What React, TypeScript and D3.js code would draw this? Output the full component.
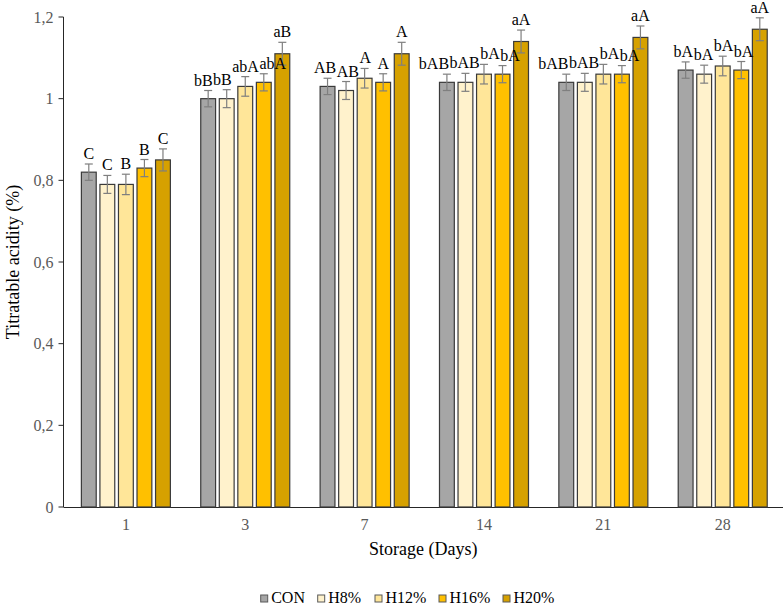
import * as d3 from 'd3';

const days = ['1', '3', '7', '14', '21', '28'];
const series = ['CON', 'H8%', 'H12%', 'H16%', 'H20%'];
const colors = ['#a6a6a6', '#fff2cc', '#ffe699', '#ffc000', '#d6a100'];

// mean titratable acidity per day, one array per treatment
const CON = [0.82, 1.0, 1.03, 1.04, 1.04, 1.07];
const H8 = [0.79, 1.0, 1.02, 1.04, 1.04, 1.06];
const H12 = [0.79, 1.03, 1.05, 1.06, 1.06, 1.08];
const H16 = [0.83, 1.04, 1.04, 1.06, 1.06, 1.07];
const H20 = [0.85, 1.11, 1.11, 1.14, 1.15, 1.17];

// standard deviations
const errCON = [0.02, 0.02, 0.02, 0.02, 0.02, 0.02];
const errH8 = [0.022, 0.022, 0.022, 0.022, 0.022, 0.022];
const errH12 = [0.025, 0.024, 0.024, 0.024, 0.024, 0.024];
const errH16 = [0.021, 0.021, 0.021, 0.021, 0.021, 0.021];
const errH20 = [0.027, 0.028, 0.028, 0.028, 0.028, 0.028];

// significance letters
const lblCON = ['C', 'bB', 'AB', 'bAB', 'bAB', 'bA'];
const lblH8 = ['C', 'bB', 'AB', 'bAB', 'bAB', 'bA'];
const lblH12 = ['B', 'abA', 'A', 'bA', 'bA', 'bA'];
const lblH16 = ['B', 'abA', 'A', 'bA', 'bA', 'bA'];
const lblH20 = ['C', 'aB', 'A', 'aA', 'aA', 'aA'];

const yTicks = [0, 0.2, 0.4, 0.6, 0.8, 1, 1.2];

const values = [CON, H8, H12, H16, H20];
const errors = [errCON, errH8, errH12, errH16, errH20];
const labels = [lblCON, lblH8, lblH12, lblH16, lblH20];

const W = 783;
const H = 605;
const font = 'Liberation Serif, DejaVu Serif, serif';
const LBL_SIZE = 16;

// Times advance widths (em) for the letters used in the labels
const charW: Record<string, number> = { a: 0.444, b: 0.5, A: 0.722, B: 0.667, C: 0.667 };
const textW = (s: string) => s.split('').reduce((acc, c) => acc + (charW[c] ?? 0.55), 0) * LBL_SIZE;

type Lbl = { text: string; x: number; y: number; w: number };

// spread labels sideways inside a group where neighbours collide
function spread(items: Lbl[]) {
  for (let it = 0; it < 15; it++) {
    for (let k = 0; k < items.length - 1; k++) {
      const a = items[k];
      const b = items[k + 1];
      if (Math.abs(a.y - b.y) > LBL_SIZE) continue;
      const overlap = a.x + a.w / 2 + 0.5 - (b.x - b.w / 2);
      if (overlap > 0) {
        a.x -= overlap / 2;
        b.x += overlap / 2;
      }
    }
  }
  return items;
}

export default function App() {
  const x0 = d3.scaleBand().domain(days).range([66.2, 782.4]);
  const groupW = 89;
  const x1 = d3.scaleBand().domain(series).range([0, groupW]).paddingInner(0.2);
  const y = d3.scaleLinear().domain([0, 1.2]).range([507, 17]);
  const fmt = (v: number) => String(v).replace('.', ',');
  const axisX = 63.5;

  return (
    <svg
      width={W}
      height={H}
      style={{ position: 'absolute', left: 0, top: 0, fontFamily: font }}
    >
      <rect width={W} height={H} fill="#fff" />
      {/* y axis */}
      <line x1={axisX} x2={axisX} y1={y(1.2)} y2={y(0)} stroke="#262626" strokeWidth={1} />
      {yTicks.map(t => (
        <g key={t}>
          <line x1={axisX - 5} x2={axisX} y1={y(t)} y2={y(t)} stroke="#262626" />
          <text x={axisX - 10} y={y(t) + 5.5} textAnchor="end" fontSize={16} fill="#595959">
            {fmt(t)}
          </text>
        </g>
      ))}
      {/* x axis */}
      <line x1={axisX} x2={W} y1={y(0) + 0.5} y2={y(0) + 0.5} stroke="#262626" />
      {days.map(d => (
        <text
          key={d}
          x={(x0(d) as number) + x0.bandwidth() / 2}
          y={530}
          textAnchor="middle"
          fontSize={16}
          fill="#595959"
        >
          {d}
        </text>
      ))}
      {/* bars and error bars */}
      {days.map((d, i) => {
        const gx = (x0(d) as number) + (x0.bandwidth() - groupW) / 2;
        return (
          <g key={d} transform={`translate(${gx},0)`}>
            {series.map((s, j) => {
              const v = values[j][i];
              const e = errors[j][i];
              const bx = x1(s) as number;
              const bw = x1.bandwidth();
              const cx = bx + bw / 2;
              return (
                <g key={s}>
                  <rect
                    x={bx}
                    y={y(v)}
                    width={bw}
                    height={y(0) - y(v)}
                    fill={colors[j]}
                    stroke="#3a3a3a"
                    strokeWidth={1.2}
                  />
                  <g stroke="#7f7f7f" strokeWidth={1.2}>
                    <line x1={cx} x2={cx} y1={y(v - e)} y2={y(v + e)} />
                    <line x1={cx - 4} x2={cx + 4} y1={y(v - e)} y2={y(v - e)} />
                    <line x1={cx - 4} x2={cx + 4} y1={y(v + e)} y2={y(v + e)} />
                  </g>
                </g>
              );
            })}
          </g>
        );
      })}
      {/* significance letters */}
      {days.map((d, i) => {
        const gx = (x0(d) as number) + (x0.bandwidth() - groupW) / 2;
        const items = spread(
          series.map((s, j) => {
            const text = labels[j][i];
            return {
              text,
              x: gx + (x1(s) as number) + x1.bandwidth() / 2,
              y: y(values[j][i] + errors[j][i]) - 5,
              w: textW(text),
            };
          })
        );
        return (
          <g key={d}>
            {items.map((l, j) => (
              <text key={j} x={l.x} y={l.y} textAnchor="middle" fontSize={LBL_SIZE} fill="#000">
                {l.text}
              </text>
            ))}
          </g>
        );
      })}
      {/* axis titles */}
      <text x={(axisX + W) / 2} y={555} textAnchor="middle" fontSize={18} fill="#000">
        Storage (Days)
      </text>
      <text
        transform={`translate(19,${y(0.6)}) rotate(-90)`}
        textAnchor="middle"
        fontSize={18}
        fill="#000"
      >
        Titratable acidity (%)
      </text>
      {/* legend */}
      {series.map((s, j) => {
        const lx = [260.7, 317.7, 375, 439, 503][j];
        return (
          <g key={s}>
            <rect x={lx} y={595} width={7} height={7} fill={colors[j]} stroke="#595959" strokeWidth={1} />
            <text x={lx + 10.5} y={603} fontSize={16} fill="#000">
              {s}
            </text>
          </g>
        );
      })}
    </svg>
  );
}
